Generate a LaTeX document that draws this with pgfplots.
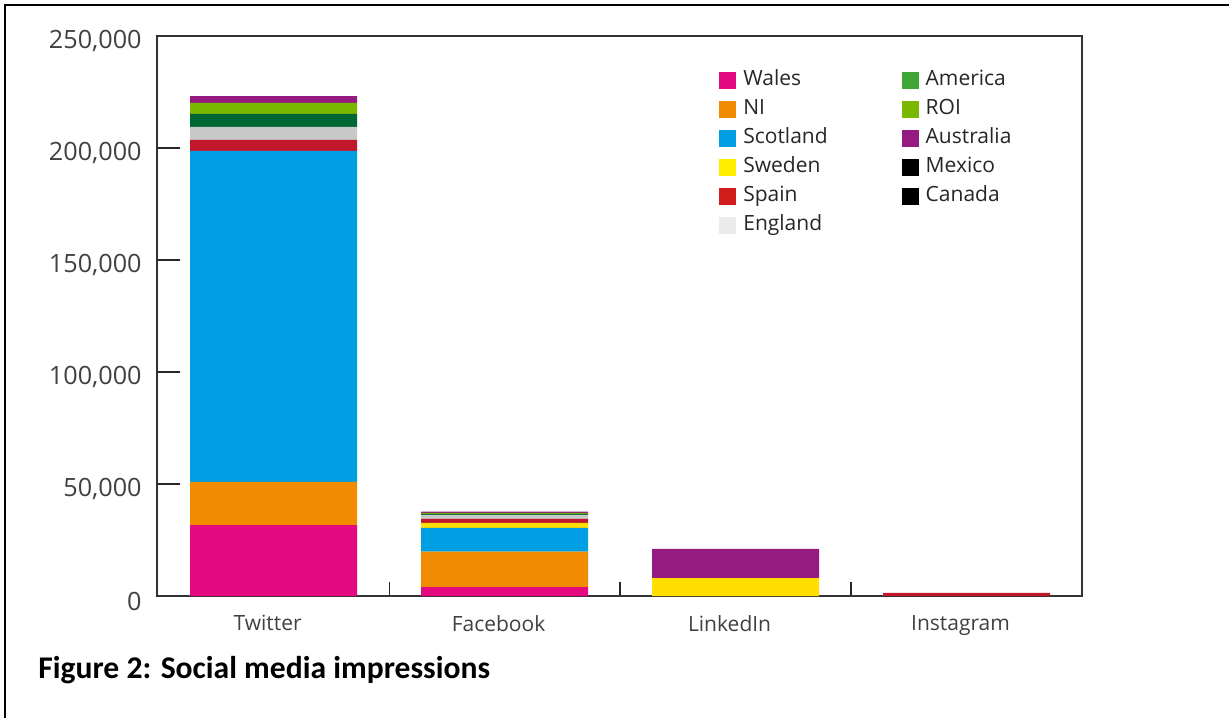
\documentclass[border=0pt]{standalone}
\usepackage{fontspec}
\setmainfont{Open Sans}
\newfontfamily\carlito{Carlito}
\usepackage{pgfplots}
\pgfplotsset{compat=1.18}
\definecolor{cWales}{HTML}{E5097F}
\definecolor{cNI}{HTML}{F18C00}
\definecolor{cScot}{HTML}{009FE3}
\definecolor{cSwe}{HTML}{FFDE00}
\definecolor{cSpain}{HTML}{C0182A}
\definecolor{cEng}{HTML}{C8C8C8}
\definecolor{cAme}{HTML}{006633}
\definecolor{cROI}{HTML}{7AB800}
\definecolor{cAus}{HTML}{951B81}
\definecolor{cMex}{HTML}{000000}
\definecolor{cCan}{HTML}{000000}
\definecolor{lAme}{HTML}{3FA535}
\definecolor{lSwe}{HTML}{FFED00}
\definecolor{lSpain}{HTML}{D21D1D}
\definecolor{lEng}{HTML}{EBEBEB}
\definecolor{txt}{HTML}{404040}
\begin{document}
\begin{tikzpicture}
\useasboundingbox (0,0) rectangle (614.5pt,-359pt);
\draw[line width=0.6pt] (2.5pt,-359pt) -- (2.5pt,-2.5pt) -- (614.5pt,-2.5pt);
\begin{axis}[
  at={(78.5pt,-18pt)}, anchor=north west,
  scale only axis, width=462.5pt, height=280pt,
  ybar stacked, bar width=83.5pt,
  xmin=-0.505, xmax=3.5, ymin=0, ymax=250000,
  xtick={0,1,2,3}, xticklabels={Twitter,Facebook,LinkedIn,Instagram},
  minor xtick={0.5,1.5,2.5},
  major tick length=11.5pt, minor tick length=7pt,
  major x tick style={draw=none},
  ytick={0,50000,100000,150000,200000,250000},
  tick align=inside, tick pos=left,
  tick style={black!85, line width=0.6pt},
  axis line style={black!80, line width=0.6pt},
  scaled y ticks=false,
  yticklabel style={/pgf/number format/fixed, /pgf/number format/1000 sep={,}, /pgf/number format/assume math mode=true,
    font=\fontsize{12.6}{14}\selectfont, text=txt, inner sep=0pt, xshift=-7.5pt, yshift=-2.5pt},
  xticklabel style={font=\fontsize{10.5}{12}\selectfont, text=txt, inner sep=0pt, yshift=-9.5pt, xshift=-3pt},
  legend style={draw=none, fill=none, at={(0.601,0.947)}, anchor=north west,
    font=\fontsize{10.5}{12}\selectfont, text=black!85,
    nodes={inner sep=0pt, text height=7.5pt, text depth=2.5pt},
    row sep=4.5pt,
    /tikz/every odd column/.append style={column sep=3.5pt},
    /tikz/every even column/.append style={column sep=37pt}},
  legend columns=2, legend cell align=left,
  legend image code/.code={\fill[#1, draw=none] (0pt,-4.25pt) rectangle (8.5pt,4.25pt);},
]
\addplot[fill=cWales, draw=none, forget plot] coordinates {(0,31700) (1,4000) (2,0) (3,0)};
\addplot[fill=cNI, draw=none, forget plot] coordinates {(0,19200) (1,15800) (2,0) (3,0)};
\addplot[fill=cScot, draw=none, forget plot] coordinates {(0,147800) (1,10600) (2,0) (3,0)};
\addplot[fill=cSwe, draw=none, forget plot] coordinates {(0,0) (1,2200) (2,8000) (3,0)};
\addplot[fill=cSpain, draw=none, forget plot] coordinates {(0,4900) (1,1800) (2,0) (3,1400)};
\addplot[fill=cEng, draw=none, forget plot] coordinates {(0,5800) (1,1800) (2,0) (3,0)};
\addplot[fill=cAme, draw=none, forget plot] coordinates {(0,5800) (1,500) (2,0) (3,0)};
\addplot[fill=cROI, draw=none, forget plot] coordinates {(0,4900) (1,400) (2,0) (3,0)};
\addplot[fill=cAus, draw=none, forget plot] coordinates {(0,3100) (1,600) (2,13000) (3,0)};
\addplot[fill=cMex, draw=none, forget plot] coordinates {(0,0) (1,0) (2,0) (3,0)};
\addplot[fill=cCan, draw=none, forget plot] coordinates {(0,0) (1,0) (2,0) (3,0)};
\addlegendimage{fill=cWales}\addlegendentry{Wales}
\addlegendimage{fill=lAme}\addlegendentry{America}
\addlegendimage{fill=cNI}\addlegendentry{NI}
\addlegendimage{fill=cROI}\addlegendentry{ROI}
\addlegendimage{fill=cScot}\addlegendentry{Scotland}
\addlegendimage{fill=cAus}\addlegendentry{Australia}
\addlegendimage{fill=lSwe}\addlegendentry{Sweden}
\addlegendimage{fill=cMex}\addlegendentry{Mexico}
\addlegendimage{fill=lSpain}\addlegendentry{Spain}
\addlegendimage{fill=cCan}\addlegendentry{Canada}
\addlegendimage{fill=lEng}\addlegendentry{England}
\end{axis}
\node[anchor=base west, inner sep=0pt, font=\carlito\bfseries\fontsize{15.8}{18}\selectfont] at (19pt,-339pt) {Figure 2: Social media impressions};
\end{tikzpicture}
\end{document}
